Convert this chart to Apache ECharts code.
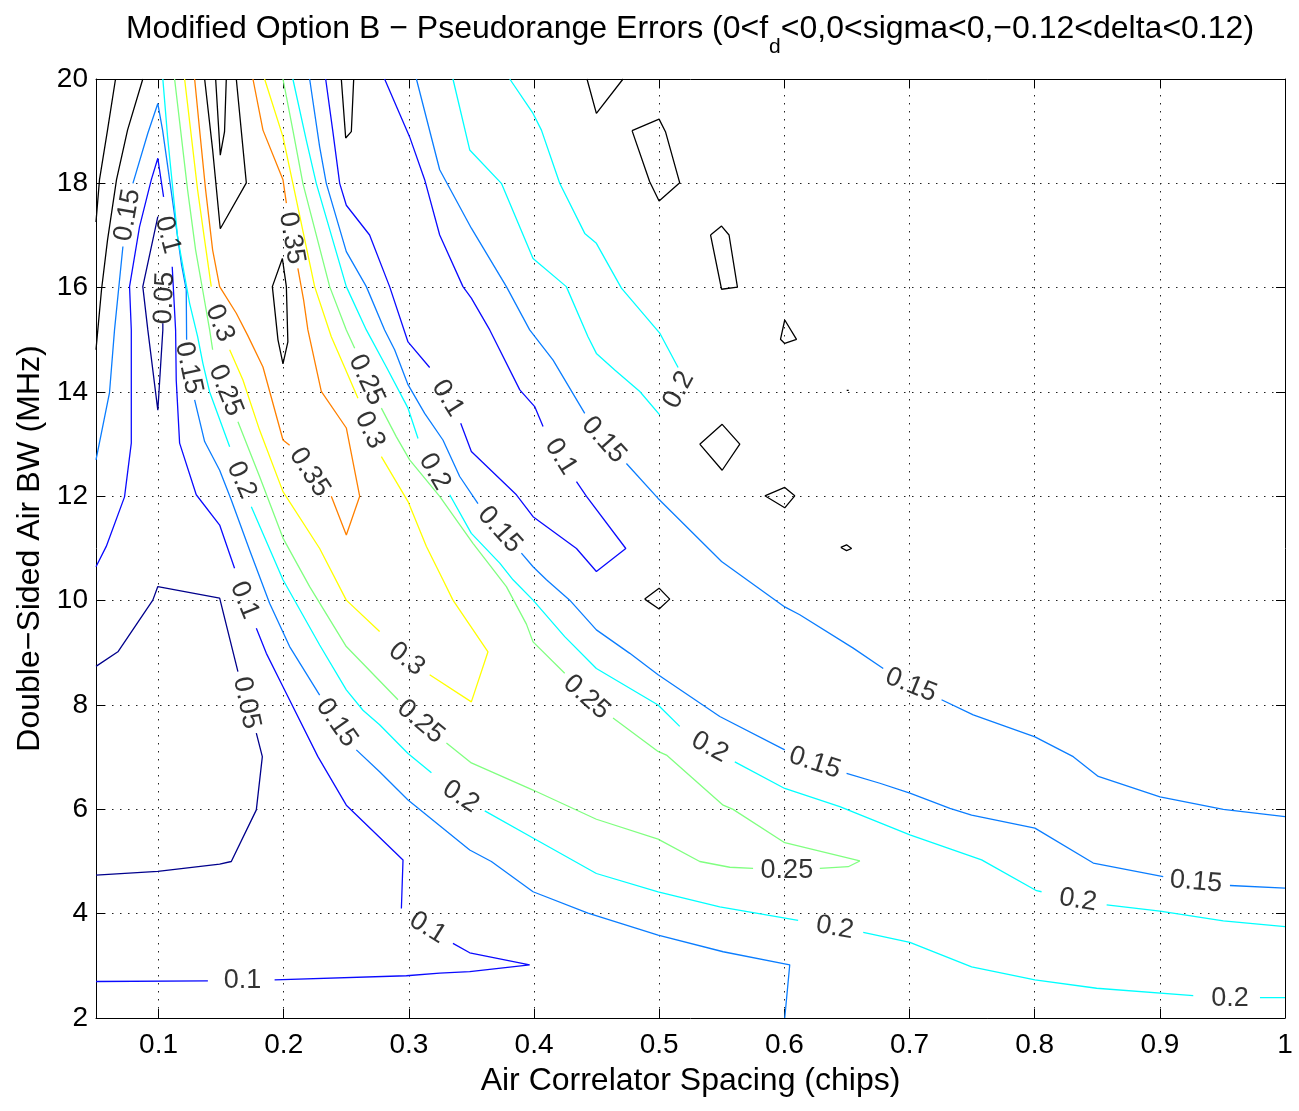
<!DOCTYPE html>
<html><head><meta charset="utf-8">
<script src="https://cdn.jsdelivr.net/npm/echarts@6/dist/echarts.min.js"></script>
<style>html,body{margin:0;padding:0;background:#fff}#c{width:1299px;height:1111px}</style>
</head><body><div id="c"></div>
<script>
// ---------- data (x: air correlator spacing [chips], y: double-sided air BW [MHz]) ----------
const xTicks = [0.1,0.2,0.3,0.4,0.5,0.6,0.7,0.8,0.9,1];
const yTicks = [2,4,6,8,10,12,14,16,18,20];

// contour polylines per level (each inner array is one drawn piece)
const c005 = [
 [[0.0994,17.36],[0.0874,16.02],[0.0914,15.19],[0.0994,13.65],[0.1034,15.19],[0.1034,15.32]],
 [[0.05,8.74],[0.0675,9.02],[0.0954,10.01],[0.0994,10.27],[0.1488,10.05],[0.1634,8.64]],
 [[0.1781,7.46],[0.1829,7.01],[0.1781,5.99],[0.1581,5.00],[0.1488,4.95],[0.0994,4.81],[0.05,4.74]]
];
const c010 = [
 [[0.05,10.65],[0.0582,11.04],[0.0728,11.99],[0.0782,13.02],[0.0782,15.19],[0.0768,16.02],[0.0848,17.17],[0.0942,18.07],[0.0994,18.48],[0.104,17.74]],
 [[0.1109,16.40],[0.1136,15.19],[0.1141,14.23],[0.1168,13.02],[0.1301,12.03],[0.1488,11.45],[0.1607,10.62]],
 [[0.1781,9.47],[0.1861,8.99],[0.1994,8.35],[0.2273,7.01],[0.25,6.08],[0.2953,5.03],[0.294,4.10]],
 [[0.3352,3.43],[0.3486,3.25],[0.3965,3.02],[0.3486,2.89],[0.3246,2.86],[0.298,2.81],[0.1927,2.73]],
 [[0.1394,2.71],[0.05,2.70]],
 [[0.2335,20],[0.2391,19.02],[0.2447,18.00],[0.25,17.58],[0.2686,17.01],[0.2846,16.02],[0.2993,14.96],[0.3166,14.47]],
 [[0.3414,13.40],[0.3499,12.86],[0.3859,12.03],[0.3992,11.61],[0.4339,11.00],[0.4498,10.56],[0.4733,11.00],[0.4419,12.00],[0.4339,12.28]],
 [[0.4072,13.34],[0.4005,13.72],[0.3886,14.04],[0.3646,15.19],[0.3499,15.80],[0.3432,16.02],[0.3246,17.01],[0.3126,18.07],[0.3006,18.89],[0.2806,20]]
];
const c015 = [
 [[0.05,12.70],[0.0608,13.99],[0.0648,15.19],[0.0715,16.79]],
 [[0.0795,18.00],[0.0914,18.96],[0.0994,19.53],[0.1032,19.02],[0.1088,18.07],[0.1144,17.11],[0.1184,16.43],[0.1221,15.96],[0.1224,15.00]],
 [[0.1288,13.85],[0.1368,13.05],[0.1488,12.50],[0.1581,11.93],[0.1727,10.97],[0.1887,9.95],[0.2047,9.12],[0.2287,8.19]],
 [[0.258,7.14],[0.2766,6.72],[0.2993,6.18],[0.3486,5.22],[0.3659,5.00],[0.3992,4.42],[0.4431,4.01],[0.4991,3.59],[0.5511,3.27],[0.6043,3.02],[0.6003,2.0]],
 [[0.2207,20],[0.2287,18.70],[0.234,18.00],[0.25,16.69],[0.266,16.02],[0.2806,15.19],[0.2886,14.81],[0.2993,14.14],[0.3126,13.59],[0.3272,13.08],[0.3406,12.38],[0.3552,11.86]],
 [[0.3899,10.91],[0.3992,10.65],[0.4099,10.40],[0.4285,10.01],[0.4498,9.44],[0.4765,8.99],[0.4991,8.58],[0.5484,7.78],[0.6003,7.14]],
 [[0.6497,6.69],[0.6763,6.50],[0.7003,6.31],[0.7323,6.02],[0.7496,5.89],[0.8002,5.64],[0.8468,4.97],[0.9027,4.71]],
 [[0.956,4.54],[1.0,4.49]],
 [[0.306,20],[0.3246,18.26],[0.3499,17.14],[0.3779,16.02],[0.3965,15.19],[0.4152,14.61],[0.4405,13.59]],
 [[0.4738,12.63],[0.4991,11.96],[0.5498,10.75],[0.6003,9.88],[0.6123,9.73],[0.655,9.09],[0.679,8.70]],
 [[0.7256,8.10],[0.7509,7.81],[0.8002,7.39],[0.8308,7.01],[0.8508,6.63],[0.9001,6.24],[0.9507,6.00],[1.0,5.86]]
];
const c020 = [
 [[0.1034,20],[0.1072,18.89],[0.1152,16.97],[0.1248,15.70],[0.1312,15.06],[0.1354,14.55],[0.1408,14.00],[0.1568,12.95]],
 [[0.1741,11.80],[0.1994,10.40],[0.2287,9.15],[0.25,8.29],[0.2633,7.90],[0.2766,7.62],[0.2993,7.07],[0.318,6.70]],
 [[0.3606,5.97],[0.3992,5.45],[0.4498,4.77],[0.4991,4.42],[0.5484,4.13],[0.611,3.87]],
 [[0.663,3.64],[0.7003,3.45],[0.7496,2.98],[0.8002,2.73],[0.8495,2.57],[0.9267,2.43]],
 [[0.98,2.39],[1.0,2.39]],
 [[0.2073,20],[0.218,18.83],[0.226,18.00],[0.25,16.02],[0.266,15.19],[0.282,14.48],[0.2993,13.69],[0.3073,13.11]],
 [[0.3326,12.03],[0.3499,11.29],[0.3726,10.72],[0.3832,10.40],[0.3992,10.01],[0.4245,9.31],[0.4498,8.70],[0.4991,8.00],[0.5164,7.59]],
 [[0.5604,6.91],[0.6003,6.40],[0.6443,6.05],[0.7003,5.51],[0.7576,5.03],[0.8015,4.44],[0.8055,4.42]],
 [[0.8575,4.17],[0.9001,4.05],[0.9507,3.86],[1.0,3.75]],
 [[0.3806,20],[0.3992,19.34],[0.4059,19.02],[0.4205,18.00],[0.4405,17.04],[0.4498,16.85],[0.4698,15.99],[0.5004,15.13],[0.5151,14.47]],
 [[0.5004,13.56],[0.4845,14.01],[0.4645,14.42],[0.4498,14.74],[0.4431,15.06],[0.4258,16.02],[0.3992,16.56],[0.3739,18.00],[0.3486,18.64],[0.3352,20]]
];
const c025 = [
 [[0.1128,20],[0.1176,19.02],[0.1232,17.87],[0.1296,16.72],[0.1352,15.96],[0.1408,15.19],[0.1432,14.81]],
 [[0.1634,13.43],[0.1807,12.38],[0.1994,11.20],[0.2207,10.27],[0.25,9.12],[0.2913,8.10]],
 [[0.33,7.27],[0.3499,6.89],[0.3992,6.37],[0.4498,5.81],[0.4991,5.43],[0.5324,5.00],[0.5564,4.89],[0.575,4.87]],
 [[0.6283,4.87],[0.651,4.90],[0.6603,5.01],[0.6003,5.36],[0.559,6.00],[0.5511,6.08],[0.5058,7.04],[0.4991,7.11],[0.4631,7.75]],
 [[0.4245,8.61],[0.3992,9.21],[0.3939,9.55],[0.3779,10.27],[0.3512,11.10],[0.3246,12.00],[0.3006,12.70],[0.29,13.14],[0.278,13.69]],
 [[0.2567,14.84],[0.25,15.19],[0.2367,16.02],[0.2153,18.00],[0.2073,19.02],[0.1994,20]]
];
const c030 = [
 [[0.1208,20],[0.1256,19.02],[0.1312,17.87],[0.1368,16.91],[0.1421,16.02]],
 [[0.1568,14.81],[0.1674,14.23],[0.1807,13.27],[0.1994,12.09],[0.2287,11.00],[0.25,10.01],[0.2766,9.41]],
 [[0.3166,8.58],[0.3499,8.06],[0.3632,9.02],[0.3352,10.01],[0.3272,10.40],[0.314,11.04],[0.2993,11.90],[0.278,12.76]],
 [[0.2593,13.88],[0.2487,14.47],[0.238,15.06],[0.2247,16.02],[0.2073,18.00],[0.1994,18.89],[0.1847,20]]
];
const c035 = [
 [[0.1288,20],[0.1328,19.02],[0.1376,17.87],[0.1432,16.72],[0.1488,16.02],[0.1621,15.51],[0.1711,15.09],[0.1834,14.48],[0.1994,13.08],[0.2047,12.98]],
 [[0.238,12.00],[0.25,11.26],[0.2607,12.00],[0.25,13.31],[0.23,14.01],[0.2193,15.19],[0.2159,15.76],[0.2113,16.37]],
 [[0.2021,17.62],[0.1994,18.07],[0.1834,19.02],[0.1754,20]]
];
const cBlack = [
 [[0.0656,20],[0.0592,19.02],[0.0528,18.07],[0.05,17.26]],
 [[0.0874,20],[0.0752,19.02],[0.0664,18.07],[0.0592,16.91],[0.0544,15.96],[0.05,14.81]],
 [[0.1368,20],[0.1432,18.64],[0.1493,17.13],[0.1701,18.01],[0.1621,20]],
 [[0.1456,20],[0.1493,18.54],[0.1527,18.99],[0.1541,20]],
 [[0.246,20],[0.2495,18.87],[0.254,18.99],[0.2559,20]],
 [[0.1989,16.56],[0.1909,16.02],[0.1954,15.00],[0.1994,14.54],[0.2033,14.96],[0.2021,16.02],[0.1989,16.56]],
 [[0.4423,20],[0.4498,19.34],[0.4711,20]],
 [[0.4783,19.01],[0.4999,19.23],[0.505,18.99],[0.5164,18.01],[0.4999,17.66],[0.4924,18.03],[0.4783,19.01]],
 [[0.541,17.01],[0.5498,17.18],[0.5558,17.01],[0.5625,16.01],[0.5498,15.97],[0.541,17.01]],
 [[0.6003,15.38],[0.6097,15.01],[0.6003,14.93],[0.5969,15.01],[0.6003,15.38]],
 [[0.6498,14.03],[0.6506,14.05],[0.6514,14.03],[0.6506,14.01],[0.6498,14.03]],
 [[0.5324,13.00],[0.5503,13.38],[0.5644,13.00],[0.5503,12.50],[0.5324,13.00]],
 [[0.5844,12.01],[0.6003,12.17],[0.6083,12.01],[0.6003,11.78],[0.5844,12.01]],
 [[0.6451,11.02],[0.6497,11.07],[0.6537,11.00],[0.6497,10.96],[0.6451,11.02]],
 [[0.4884,10.03],[0.4999,10.24],[0.5084,10.03],[0.4999,9.84],[0.4884,10.03]]
];

// inline contour labels: [x, y, text, rotation (deg, ccw)]
const labelPts = [
 [0.0752,17.39,'0.15',80],[0.1072,17.01,'0.1',-75],[0.1048,15.80,'0.05',88],[0.124,14.46,'0.15',-78],
 [0.1488,15.32,'0.3',-68],[0.1536,14.03,'0.25',-68],[0.2063,16.95,'0.35',-80],[0.1663,12.31,'0.2',-66],
 [0.2207,12.46,'0.35',-57],[0.2662,14.23,'0.25',-65],[0.2686,13.27,'0.3',-65],[0.331,13.88,'0.1',-58],
 [0.3206,12.47,'0.2',-60],[0.3726,11.36,'0.15',-48],[0.4213,12.76,'0.1',-58],[0.4557,13.08,'0.15',-48],
 [0.5156,14.04,'0.2',62],[0.1687,10.01,'0.1',-68],[0.1703,8.04,'0.05',-78],[0.2423,7.66,'0.15',-55],
 [0.2982,8.88,'0.3',-38],[0.3094,7.68,'0.25',-40],[0.3414,6.24,'0.2',-33],[0.315,3.73,'0.1',-32],
 [0.1671,2.71,'0.1',0],[0.442,8.15,'0.25',-42],[0.5404,7.19,'0.2',-28],[0.6243,6.89,'0.15',-18],
 [0.7012,8.38,'0.15',-22],[0.602,4.82,'0.25',0],[0.6403,3.73,'0.2',-10],[0.8345,4.26,'0.2',-9],
 [0.9289,4.61,'0.15',-5],[0.956,2.38,'0.2',0]
];

// ---------- build ----------
const FONT = '"Liberation Sans", Arial, Helvetica, sans-serif';
const GAP = ['-','-'];
function joinPieces(pieces){ const out=[]; pieces.forEach((p,i)=>{ if(i) out.push(GAP); p.forEach(q=>out.push(q)); }); return out; }
const levelDefs = [
 {data:cBlack, color:'#000000'},
 {data:c005, color:'#00008c'},
 {data:c010, color:'#0a0aff'},
 {data:c015, color:'#0a7dff'},
 {data:c020, color:'#00ffff'},
 {data:c025, color:'#80ff80'},
 {data:c030, color:'#ffff00'},
 {data:c035, color:'#ff8000'}
];
const fmt = v => String(parseFloat(Number(v).toFixed(2)));
const axisLineStyle = {color:'#000', width:1};
const series = levelDefs.map(d => ({
  type:'line', data: joinPieces(d.data), showSymbol:false, symbol:'none', connectNulls:false,
  silent:true, animation:false, lineStyle:{color:d.color, width:1.3}, z:3
}));
series.push({
  type:'scatter', silent:true, animation:false, symbolSize:1, z:10,
  itemStyle:{color:'rgba(0,0,0,0)'},
  data: labelPts.map(l => ({value:[l[0],l[1]], name:l[2], label:{rotate:l[3]}})),
  label:{show:true, position:'inside', formatter: p => p.name, fontSize:27, color:'#000', fontFamily:FONT}
});

const chart = echarts.init(document.getElementById('c'), null, {renderer:'canvas'});
chart.setOption({
  backgroundColor:'#fff',
  animation:false,
  title:{
    left:690, top:13, textAlign:'center', padding:0,
    text:'{a|Modified Option B \u2212 Pseudorange Errors (0<f}{s|d}{a|<0,0<sigma<0,\u22120.12<delta<0.12)}',
    textStyle:{ fontWeight:'normal', rich:{
      a:{fontSize:32, lineHeight:35, verticalAlign:'top', fontWeight:'normal', color:'#000', fontFamily:FONT},
      s:{fontSize:21, lineHeight:21, verticalAlign:'top', fontWeight:'normal', padding:[24,0,0,1], color:'#000', fontFamily:FONT}
    }}
  },
  grid:{left:96, right:14, top:79, bottom:93, containLabel:false},
  xAxis:[{
    type:'value', min:0.05, max:1, position:'bottom',
    axisLine:{show:true, onZero:false, lineStyle:axisLineStyle},
    axisTick:{show:true, inside:true, length:9, customValues:xTicks, lineStyle:{color:'#000'}},
    axisLabel:{show:true, customValues:xTicks, formatter:fmt, fontSize:28, color:'#000', margin:13, fontFamily:FONT},
    splitLine:{show:true, lineStyle:{color:'#222', width:1, type:[1.5,6.5]}},
    name:'Air Correlator Spacing (chips)', nameLocation:'middle', nameGap:47,
    nameTextStyle:{fontSize:32, color:'#000', fontFamily:FONT}
  },{
    type:'value', min:0.05, max:1, position:'top',
    axisLine:{show:true, onZero:false, lineStyle:axisLineStyle},
    axisTick:{show:true, inside:true, length:9, customValues:xTicks, lineStyle:{color:'#000'}},
    axisLabel:{show:false}, splitLine:{show:false}
  }],
  yAxis:[{
    type:'value', min:2, max:20, interval:2, position:'left',
    axisLine:{show:true, onZero:false, lineStyle:axisLineStyle},
    axisTick:{show:true, inside:true, length:9, lineStyle:{color:'#000'}},
    axisLabel:{show:true, formatter:fmt, fontSize:28, color:'#000', margin:8, fontFamily:FONT},
    splitLine:{show:true, lineStyle:{color:'#222', width:1, type:[1.5,6.5]}},
    name:'Double\u2212Sided Air BW (MHz)', nameLocation:'middle', nameGap:50, nameRotate:90,
    nameTextStyle:{fontSize:32, color:'#000', fontFamily:FONT}
  },{
    type:'value', min:2, max:20, interval:2, position:'right',
    axisLine:{show:true, onZero:false, lineStyle:axisLineStyle},
    axisTick:{show:true, inside:true, length:9, lineStyle:{color:'#000'}},
    axisLabel:{show:false}, splitLine:{show:false}
  }],
  series: series
});
</script></body></html>
